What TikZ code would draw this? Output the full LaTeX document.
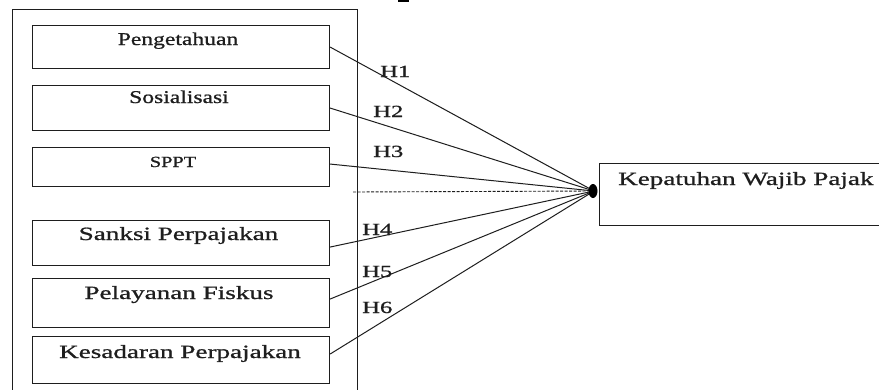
\documentclass[tikz,border=0pt]{standalone}
\usepackage{fontspec}
\setmainfont{Liberation Serif}[FakeStretch=1.31, FakeBold=0.9]
\newfontfamily\widefont{Liberation Serif}[FakeStretch=1.45, FakeBold=0.9]
\usetikzlibrary{shapes.geometric}
\definecolor{ink}{RGB}{30,30,30}
\begin{document}
\begin{tikzpicture}[x=1pt,y=-1pt,
  box/.style={draw=ink, line width=1.1pt, rectangle, inner sep=0pt, anchor=north west, minimum width=297pt},
  txtA/.style={anchor=base, inner sep=0pt, text=ink, font=\fontsize{18}{20}\selectfont},
  txtB/.style={anchor=base, inner sep=0pt, text=ink, font=\widefont\fontsize{18.7}{20}\selectfont},
  hlab/.style={anchor=base west, inner sep=0pt, text=ink, font=\widefont\fontsize{17}{19}\selectfont},
  link/.style={draw=ink, line width=1pt},
  hub/.style={ellipse, fill=black, inner sep=0pt, minimum width=9pt, minimum height=14pt}]
\useasboundingbox (0,0) rectangle (879,389);
\clip (0,0) rectangle (879,389);
\fill[white] (0,0) rectangle (879,389);
% outer frame (runs past the bottom edge)
\node[box, minimum width=345pt, minimum height=420pt] (outer) at (12,9) {};
% inner boxes
\node[box, minimum height=43pt] (b1) at (32,25) {};
\node[box, minimum height=45pt] (b2) at (32,85) {};
\node[box, minimum height=39pt] (b3) at (32,147) {};
\node[box, minimum height=45pt] (b4) at (32,220) {};
\node[box, minimum height=49pt] (b5) at (32,278) {};
\node[box, minimum height=47pt] (b6) at (32,336) {};
% texts
\node[txtA] (t1) at (178,45) {Pengetahuan};
\node[txtA] (t2) at (179,103) {Sosialisasi};
\node[txtA, font=\fontsize{15.5}{17}\selectfont] (t3) at (173,167) {SPPT};
\node[txtB] (t4) at (178.5,240) {Sanksi Perpajakan};
\node[txtB] (t5) at (179,299) {Pelayanan Fiskus};
\node[txtB] (t6) at (180,358) {Kesadaran Perpajakan};
% target box (runs past the right edge)
\node[box, minimum width=300pt, minimum height=62pt] (r) at (599,163) {};
\node[anchor=base west, inner sep=0pt, text=ink, font=\widefont\fontsize{18.7}{20}\selectfont] (tk) at (618,185) {Kepatuhan Wajib Pajak};
% hub
\coordinate (c) at (594,191);
\coordinate (d0) at (353,192);
\draw[link] (b1.east) -- (c);
\draw[link] (b2.east) -- (c);
\draw[link] ([yshift=3pt]b3.east) -- (c);
\draw[link] ([yshift=-4pt]b4.east) -- (c);
\draw[link] ([yshift=4pt]b5.east) -- (c);
\draw[link] ([yshift=6pt]b6.east) -- (c);
\draw[link, line width=0.9pt, dashed, dash pattern=on 3pt off 1.5pt] (d0) -- (c);
\node[hub] (hubdot) at (593,191) {};
% hypothesis labels
\node[hlab] (h1) at (380,77) {H1};
\node[hlab] (h2) at (373,117) {H2};
\node[hlab] (h3) at (373,157) {H3};
\node[hlab] (h4) at (362,235) {H4};
\node[hlab] (h5) at (362,277) {H5};
\node[hlab] (h6) at (362,313) {H6};
% fragment at top edge
\draw[line width=1.5pt] (398,0.8) -- (409,0.8);
\end{tikzpicture}
\end{document}
